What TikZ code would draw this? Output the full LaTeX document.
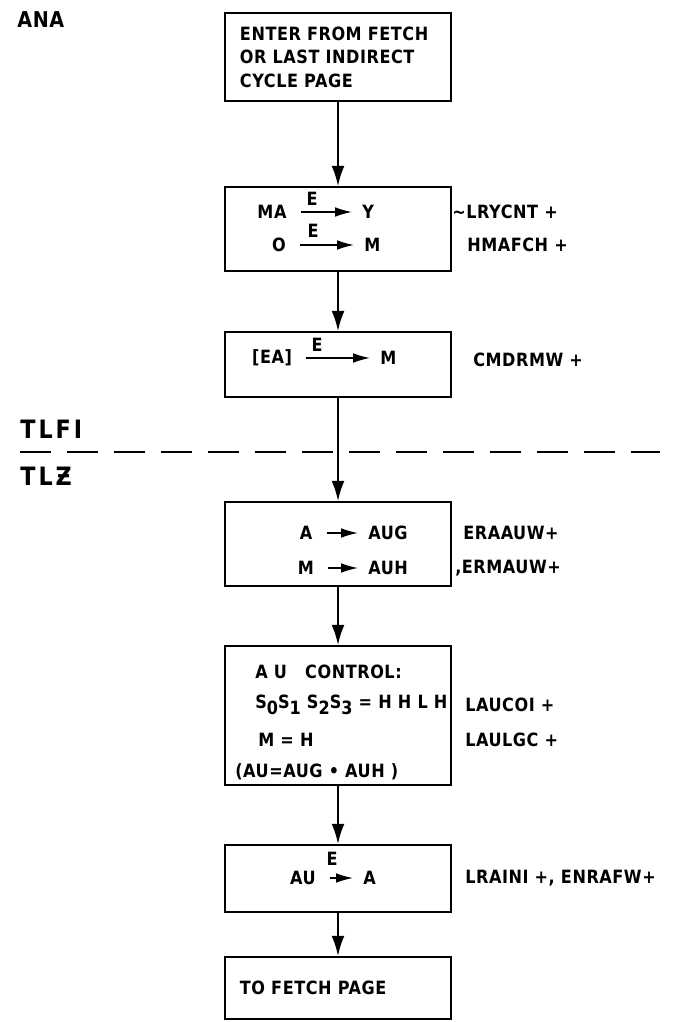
\documentclass[tikz,border=0pt]{standalone}
\usepackage{fontspec}
\setmainfont{DejaVu Sans}[FakeStretch=0.88, LetterSpace=3]
\usetikzlibrary{positioning}
\usetikzlibrary{arrows.meta}
\newcommand{\subdig}[1]{\raisebox{-0.6ex}{#1}}

\begin{document}
\begin{tikzpicture}[x=0.025cm, y=-0.025cm,
    every node/.style={font=\bfseries\fontsize{13}{15}\selectfont, inner sep=0pt},
    box/.style={draw, line width=1.5pt, minimum width=5.65cm},
    flow/.style={line width=1.3pt, -{Latex[length=0.5cm,width=0.32cm]}},
    xfer/.style={line width=1.1pt, -{Latex[length=0.42cm,width=0.24cm]}, shorten <=0.35cm, shorten >=0.25cm},
    side/.style={anchor=west},
    biglabel/.style={anchor=west, font=\bfseries\fontsize{18}{20}\selectfont\addfontfeatures{LetterSpace=12}}]
    \useasboundingbox (0,0) rectangle (673,1022);

    % Etiquetas de pagina
    \node[biglabel, font=\bfseries\fontsize{15.5}{17}\selectfont] (ana) at (17,20) {ANA};
    \node[biglabel] (tlfi) at (20,429) {TLFI};
    \node[biglabel] (tlz) at (20,476) {TLƵ};

    % Linea divisoria
    \coordinate (divL) at (20,452);
    \coordinate (divR) at (660,452);
    \draw[line width=1.4pt, dash pattern=on 0.775cm off 0.4cm] (divL) -- (divR);

    % Cajas
    \node[box, minimum height=2.2cm, text width=4.9cm, align=left,
          font=\bfseries\fontsize{13}{16.7}\selectfont] (enter) at (338,57)
          {ENTER FROM FETCH\\OR LAST INDIRECT\\CYCLE PAGE};
    \node[box, minimum height=2.1cm] (cycle) at (338,229) {};
    \node[box, minimum height=1.625cm] (store) at (338,364.5) {};
    \node[box, minimum height=2.1cm] (load) at (338,544) {};
    \node[box, minimum height=3.475cm] (auctl) at (338,715.5) {};
    \node[box, minimum height=1.675cm] (result) at (338,878.5) {};
    \node[box, minimum height=1.55cm, text width=4.9cm, align=left] (fetch) at (338,988)
          {TO FETCH PAGE};

    % Flujo
    \draw[flow] (enter) -- (cycle);
    \draw[flow] (cycle) -- (store);
    \draw[flow] (store) -- (load);
    \draw[flow] (load) -- (auctl);
    \draw[flow] (auctl) -- (result);
    \draw[flow] (result) -- (fetch);

    % Transferencias: caja 2
    \node (ma) at (272,212) {MA};
    \node[anchor=west] (ydest) at (362,212) {Y};
    \draw[xfer] (ma) -- (ydest);
    \node (ema) at (312,199) {E};
    \node (zero) at (279,245) {O};
    \node[anchor=west] (mdest) at (364,245) {M};
    \draw[xfer] (zero) -- (mdest);
    \node (ezero) at (313,231) {E};

    % Caja 3
    \node (ea) at (272,358) {[EA]};
    \node[anchor=west] (mstore) at (380,358) {M};
    \draw[xfer] (ea) -- (mstore);
    \node (eea) at (317,345) {E};

    % Caja 4
    \node (areg) at (306,533) {A};
    \node[anchor=west] (aug) at (368,533) {AUG};
    \draw[xfer] (areg) -- (aug);
    \node (mreg) at (306,568) {M};
    \node[anchor=west] (auh) at (368,568) {AUH};
    \draw[xfer] (mreg) -- (auh);

    % Caja 5
    \node[anchor=west] (ctl) at (255,672) {A U\quad CONTROL:};
    \node[anchor=west] (sel) at (255,705)
          {S\subdig{0}S\subdig{1} S\subdig{2}S\subdig{3} = H H L H};
    \node[anchor=west] (mode) at (258,740) {M = H};
    \node[anchor=west] (auexp) at (235,772) {(AU=AUG • AUH )};

    % Caja 6
    \node (au) at (303,878) {AU};
    \node[anchor=west] (adest) at (363,878) {A};
    \draw[xfer] (au) -- (adest);
    \node (eau) at (332,859) {E};

    % Senales
    \node[side] (s1) at (452,212) {\textasciitilde LRYCNT +};
    \node[side] (s2) at (467,245) {HMAFCH +};
    \node[side] (s3) at (473,360) {CMDRMW +};
    \node[side] (s4) at (463,533) {ERAAUW+};
    \node[side] (s5) at (455,568) {,ERMAUW+};
    \node[side] (s6) at (465,705) {LAUCOI +};
    \node[side] (s7) at (465,740) {LAULGC +};
    \node[side] (s8) at (465,878) {LRAINI +, ENRAFW+};
\end{tikzpicture}
\end{document}
